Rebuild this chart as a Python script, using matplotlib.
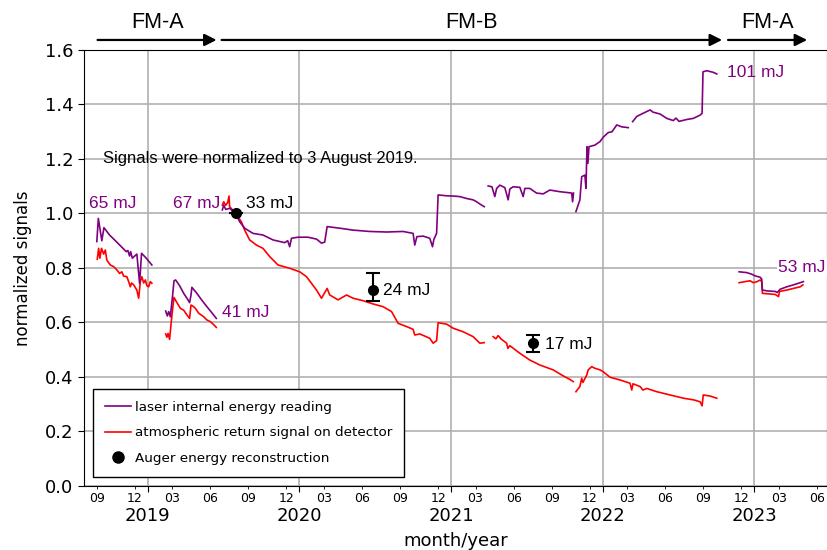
import numpy as np
import pandas as pd
import matplotlib
matplotlib.use("Agg")
import matplotlib.pyplot as plt
import matplotlib.dates as mdates
from matplotlib.lines import Line2D

# ---- data (x in decimal years, y = normalized signal) ----
# FM-A, autumn 2018
laser_a1_x = [2018.665, 2018.675, 2018.698, 2018.712, 2018.749, 2018.793, 2018.859, 2018.870,
              2018.881, 2018.888, 2018.899, 2018.929, 2018.947, 2018.960, 2018.991, 2019.028]
laser_a1_y = [0.897, 0.982, 0.900, 0.948, 0.921, 0.897, 0.860, 0.864,
              0.844, 0.860, 0.836, 0.851, 0.744, 0.854, 0.836, 0.811]
atm_a1_x = [2018.668, 2018.677, 2018.685, 2018.696, 2018.710, 2018.721, 2018.731, 2018.754,
            2018.776, 2018.797, 2018.815, 2018.830, 2018.842, 2018.863, 2018.875, 2018.886,
            2018.894, 2018.908, 2018.929, 2018.941, 2018.952, 2018.962, 2018.974, 2018.985,
            2018.995, 2019.007, 2019.018, 2019.028]
atm_a1_y = [0.832, 0.872, 0.836, 0.872, 0.851, 0.866, 0.829, 0.811,
            0.805, 0.793, 0.780, 0.786, 0.770, 0.768, 0.750, 0.731,
            0.745, 0.738, 0.719, 0.689, 0.750, 0.768, 0.745, 0.756,
            0.735, 0.731, 0.750, 0.744]

# FM-A, spring 2019
laser_a2_x = [2019.119, 2019.130, 2019.139, 2019.150, 2019.158, 2019.165, 2019.174, 2019.185,
              2019.211, 2019.238, 2019.264, 2019.277, 2019.286, 2019.292, 2019.325, 2019.356,
              2019.391, 2019.422, 2019.453]
laser_a2_y = [0.642, 0.624, 0.640, 0.621, 0.664, 0.700, 0.753, 0.756,
              0.735, 0.707, 0.685, 0.673, 0.700, 0.729, 0.707, 0.683,
              0.658, 0.637, 0.615]
atm_a2_x = [2019.119, 2019.127, 2019.135, 2019.145, 2019.156, 2019.165, 2019.174, 2019.189,
            2019.216, 2019.238, 2019.259, 2019.277, 2019.286, 2019.299, 2019.315, 2019.337,
            2019.370, 2019.389, 2019.414, 2019.436, 2019.453]
atm_a2_y = [0.558, 0.546, 0.560, 0.538, 0.603, 0.650, 0.692, 0.677,
            0.652, 0.645, 0.628, 0.615, 0.664, 0.660, 0.652, 0.634,
            0.621, 0.610, 0.603, 0.592, 0.582]

# FM-B
laser_b1_x = [2019.493, 2019.502, 2019.515, 2019.541, 2019.581, 2019.607, 2019.640, 2019.695,
              2019.761, 2019.827, 2019.904, 2019.924, 2019.937, 2019.949, 2019.992, 2020.058,
              2020.114, 2020.147, 2020.168, 2020.184, 2020.267, 2020.355, 2020.465, 2020.576,
              2020.685, 2020.751, 2020.762, 2020.776, 2020.817, 2020.861, 2020.879, 2020.888,
              2020.906, 2020.916, 2020.972, 2021.015, 2021.059, 2021.104, 2021.147, 2021.170,
              2021.191, 2021.220]
laser_b1_y = [1.013, 1.031, 1.015, 1.019, 1.000, 0.970, 0.946, 0.927,
              0.921, 0.903, 0.893, 0.900, 0.878, 0.909, 0.913, 0.913,
              0.906, 0.891, 0.895, 0.952, 0.946, 0.939, 0.934, 0.932,
              0.934, 0.927, 0.884, 0.915, 0.917, 0.909, 0.878, 0.905,
              0.927, 1.068, 1.065, 1.064, 1.062, 1.055, 1.050, 1.043,
              1.035, 1.025]
laser_b2_x = [2021.246, 2021.271, 2021.290, 2021.302, 2021.323, 2021.356, 2021.378, 2021.389,
              2021.411, 2021.455, 2021.477, 2021.488, 2021.521, 2021.565, 2021.609, 2021.653,
              2021.719, 2021.797, 2021.803, 2021.809]
laser_b2_y = [1.101, 1.098, 1.062, 1.092, 1.104, 1.095, 1.050, 1.090,
              1.098, 1.096, 1.062, 1.092, 1.092, 1.075, 1.072, 1.086,
              1.080, 1.075, 1.043, 1.075]
laser_b3_x = [2021.825, 2021.851, 2021.863, 2021.884, 2021.891, 2021.898, 2021.904, 2021.911,
              2021.950, 2021.984, 2022.005, 2022.038, 2022.063, 2022.094, 2022.127, 2022.170]
laser_b3_y = [1.007, 1.050, 1.135, 1.141, 1.092, 1.245, 1.184, 1.245,
              1.251, 1.264, 1.280, 1.297, 1.300, 1.325, 1.318, 1.315]
laser_b4_x = [2022.199, 2022.226, 2022.269, 2022.314, 2022.333, 2022.380, 2022.424, 2022.467,
              2022.485, 2022.505, 2022.556, 2022.599, 2022.644, 2022.657, 2022.663, 2022.688,
              2022.731, 2022.754]
laser_b4_y = [1.337, 1.356, 1.368, 1.380, 1.372, 1.365, 1.349, 1.341,
              1.350, 1.338, 1.345, 1.349, 1.361, 1.368, 1.520, 1.524,
              1.518, 1.512]

atm_b1_x = [2019.493, 2019.502, 2019.515, 2019.528, 2019.537, 2019.541, 2019.581, 2019.618,
            2019.640, 2019.673, 2019.718, 2019.761, 2019.805, 2019.860, 2019.898, 2019.937,
            2020.003, 2020.048, 2020.114, 2020.147, 2020.184, 2020.201, 2020.256, 2020.312,
            2020.355, 2020.421, 2020.487, 2020.553, 2020.609, 2020.652, 2020.708, 2020.751,
            2020.762, 2020.795, 2020.861, 2020.883, 2020.906, 2020.916, 2020.972, 2021.015,
            2021.081, 2021.147, 2021.191, 2021.220]
atm_b1_y = [1.031, 1.043, 1.030, 1.040, 1.064, 1.025, 1.000, 0.970,
            0.939, 0.903, 0.884, 0.872, 0.842, 0.811, 0.805, 0.799,
            0.786, 0.768, 0.719, 0.689, 0.725, 0.701, 0.683, 0.701,
            0.689, 0.680, 0.668, 0.658, 0.640, 0.597, 0.585, 0.575,
            0.554, 0.558, 0.542, 0.524, 0.533, 0.599, 0.594, 0.579,
            0.566, 0.548, 0.524, 0.526]
atm_b2_x = [2021.279, 2021.297, 2021.312, 2021.330, 2021.368, 2021.376, 2021.389, 2021.455,
            2021.521, 2021.587, 2021.675, 2021.741, 2021.785, 2021.807]
atm_b2_y = [0.548, 0.540, 0.552, 0.540, 0.524, 0.505, 0.515, 0.487,
            0.462, 0.444, 0.426, 0.404, 0.391, 0.383]
atm_b3_x = [2021.825, 2021.851, 2021.863, 2021.871, 2021.896, 2021.906, 2021.929, 2021.950,
            2021.984, 2022.003, 2022.050, 2022.116, 2022.182, 2022.193, 2022.201, 2022.248,
            2022.267, 2022.292, 2022.358, 2022.446, 2022.535, 2022.601, 2022.644, 2022.657,
            2022.665, 2022.710, 2022.754]
atm_b3_y = [0.346, 0.365, 0.395, 0.380, 0.407, 0.426, 0.438, 0.432,
            0.426, 0.420, 0.399, 0.389, 0.377, 0.352, 0.375, 0.365,
            0.352, 0.358, 0.346, 0.334, 0.322, 0.316, 0.309, 0.294,
            0.334, 0.330, 0.322]

# FM-A, 2023
laser_a3_x = [2022.901, 2022.952, 2022.985, 2023.007, 2023.040, 2023.050, 2023.055, 2023.084,
              2023.139, 2023.152, 2023.172, 2023.216, 2023.259, 2023.304, 2023.325]
laser_a3_y = [0.786, 0.783, 0.777, 0.771, 0.766, 0.760, 0.719, 0.716,
              0.714, 0.710, 0.722, 0.731, 0.738, 0.746, 0.750]
atm_a3_x = [2022.901, 2022.941, 2022.974, 2022.995, 2023.020, 2023.040, 2023.050, 2023.055,
            2023.094, 2023.139, 2023.161, 2023.168, 2023.216, 2023.259, 2023.304, 2023.322]
atm_a3_y = [0.746, 0.750, 0.753, 0.746, 0.750, 0.756, 0.750, 0.707,
            0.705, 0.703, 0.695, 0.714, 0.719, 0.725, 0.731, 0.738]

# Auger energy reconstruction
auger_dates = ["2019-08-03", "2020-06-26", "2021-07-17"]
auger_vals = [1.000, 0.719, 0.526]
auger_err_lo = [0.0, 0.040, 0.033]
auger_err_hi = [0.0, 0.061, 0.028]

# laser periods shown on top
period_names = ["FM-A", "FM-B", "FM-A"]
period_start = [2018.670, 2019.488, 2022.828]
period_end = [2019.455, 2022.789, 2023.350]


def yr2date(y):
    y = np.asarray(y, dtype=float)
    return pd.Timestamp("2019-01-01") + pd.to_timedelta((y - 2019.0) * 365.25, unit="D")


PURPLE = "#800080"
RED = "#ff0000"
ANN_FONT = "Liberation Sans"

fig = plt.figure(figsize=(8.28, 5.5), dpi=100)
ax = fig.add_axes([0.101, 0.1164, 0.898, 0.7927])

laser_segments = [(laser_a1_x, laser_a1_y), (laser_a2_x, laser_a2_y), (laser_b1_x, laser_b1_y),
                  (laser_b2_x, laser_b2_y), (laser_b3_x, laser_b3_y), (laser_b4_x, laser_b4_y),
                  (laser_a3_x, laser_a3_y)]
atm_segments = [(atm_a1_x, atm_a1_y), (atm_a2_x, atm_a2_y), (atm_b1_x, atm_b1_y),
                (atm_b2_x, atm_b2_y), (atm_b3_x, atm_b3_y), (atm_a3_x, atm_a3_y)]

for xs, ys in atm_segments:
    ax.plot(yr2date(xs), ys, color=RED, lw=1.2)
for xs, ys in laser_segments:
    ax.plot(yr2date(xs), ys, color=PURPLE, lw=1.2)

ax.errorbar(pd.to_datetime(auger_dates), auger_vals, yerr=[auger_err_lo, auger_err_hi],
            fmt="o", color="black", ms=7, elinewidth=1.5, capsize=5, capthick=1.5, zorder=5)

ax.set_xlim(yr2date(2018.578), yr2date(2023.482))
ax.set_ylim(0, 1.6)
ax.set_yticks(np.arange(0, 1.61, 0.2))
ax.yaxis.set_major_formatter(matplotlib.ticker.FormatStrFormatter("%.1f"))

ax.xaxis.set_major_locator(mdates.YearLocator())
ax.xaxis.set_major_formatter(mdates.DateFormatter("%Y"))
ax.xaxis.set_minor_locator(mdates.MonthLocator(bymonth=[3, 6, 9, 12]))
ax.xaxis.set_minor_formatter(mdates.DateFormatter("%m"))
ax.tick_params(axis="x", which="major", length=4, pad=11, labelsize=13)
ax.tick_params(axis="x", which="minor", length=2.5, pad=2, labelsize=9)
ax.tick_params(axis="y", length=4, labelsize=13)

ax.grid(which="major", color="#b0b0b0", lw=1.2)
ax.set_axisbelow(True)

ax.set_xlabel("month/year", fontsize=13, labelpad=5)
ax.set_ylabel("normalized signals", fontsize=12, labelpad=9)

# labels on curves
lbl = dict(fontsize=12.5, family=ANN_FONT, va="center")
ax.text(yr2date(2018.611), 1.035, "65 mJ", color=PURPLE, **lbl)
ax.text(yr2date(2019.165), 1.035, "67 mJ", color=PURPLE, **lbl)
ax.text(yr2date(2019.647), 1.035, "33 mJ", color="black", **lbl)
ax.text(yr2date(2019.488), 0.635, "41 mJ", color=PURPLE, **lbl)
ax.text(yr2date(2020.551), 0.716, "24 mJ", color="black", **lbl)
ax.text(yr2date(2021.620), 0.521, "17 mJ", color="black", **lbl)
ax.text(yr2date(2022.822), 1.516, "101 mJ", color=PURPLE, **lbl)
ax.text(yr2date(2023.158), 0.800, "53 mJ", color=PURPLE,
        bbox=dict(facecolor="white", edgecolor="none", pad=1), **lbl)
ax.text(yr2date(2018.703), 1.200, "Signals were normalized to 3 August 2019.", fontsize=11.9,
        family=ANN_FONT, va="center")

# periods on top
for name, s, e in zip(period_names, period_start, period_end):
    ax.annotate("", xy=(yr2date(e), 1.023), xytext=(yr2date(s), 1.023),
                xycoords=("data", "axes fraction"), textcoords=("data", "axes fraction"),
                arrowprops=dict(arrowstyle="-|>", lw=1.6, color="black", mutation_scale=18,
                                shrinkA=0, shrinkB=0),
                annotation_clip=False)
    ax.text(yr2date((s + e) / 2), 1.064, name, transform=ax.get_xaxis_transform(),
            ha="center", va="center", fontsize=15.5, family=ANN_FONT)

handles = [Line2D([], [], color=PURPLE, lw=1.2),
           Line2D([], [], color=RED, lw=1.2),
           Line2D([], [], color="black", marker="o", ls="none", ms=8)]
labels = ["laser internal energy reading", "atmospheric return signal on detector",
          "Auger energy reconstruction"]
leg = ax.legend(handles, labels, loc="lower left", fontsize=9.7, fancybox=False,
                edgecolor="black", framealpha=1, borderaxespad=0.7, borderpad=0.85,
                labelspacing=0.95, handletextpad=0.3)
leg.get_frame().set_linewidth(1.0)

fig.savefig("out.png", dpi=100)
